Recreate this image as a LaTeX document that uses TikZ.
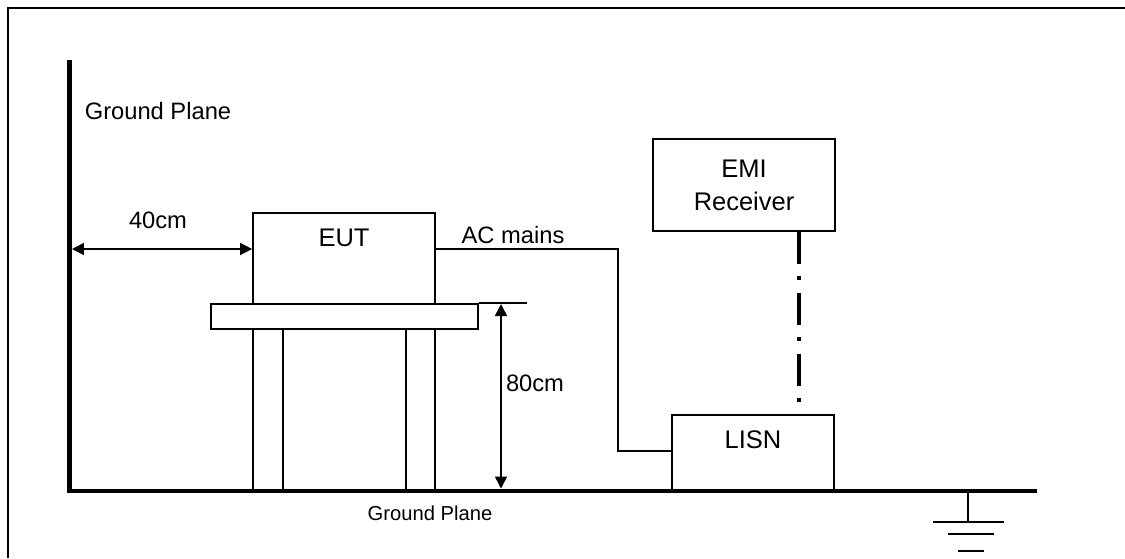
\documentclass[tikz,border=0pt]{standalone}
\usepackage{fontspec}
\setmainfont{Liberation Sans}
\usetikzlibrary{positioning,arrows.meta}
\tikzset{
  dimarrow/.style={{Triangle[length=2.4mm,width=2.4mm]}-{Triangle[length=2.4mm,width=2.4mm]}, line width=0.9pt},
  wire/.style={line width=0.9pt},
  planeline/.style={line width=2.8pt},
  frameline/.style={line width=1.1pt},
  sigline/.style={line width=2.5pt, dash pattern=on 0.64cm off 0.25cm on 0.08cm off 0.25cm},
  boxnode/.style={draw, line width=1pt, inner sep=0pt, align=center, font=\fontsize{14.5}{18.8}\selectfont},
  boxtext/.style={font=\fontsize{14.5}{18.8}\selectfont}
}
\begin{document}
\begin{tikzpicture}[x=0.02cm, y=-0.02cm, every node/.style={font=\fontsize{13.5}{16}\selectfont}]
  \useasboundingbox (0,0) rectangle (1125,558);
  \draw[frameline] (8,558) -- (8,8) -- (1125,8);
  % ground planes
  \draw[planeline] (69.5,60) |- (1037,491);
  \node (gptop) at (158,111) {Ground Plane};
  \node[font=\fontsize{11.5}{14}\selectfont] (gpbot) at (430,513) {Ground Plane};
  % equipment
  \node[boxnode, minimum width=3.64cm, minimum height=1.82cm, label={[boxtext, yshift=0.41cm]center:EUT}] (eut) at (344,258.5) {};
  \node[boxnode, minimum width=5.34cm, minimum height=0.5cm] (table) at (344.5,316.5) {};
  \draw[wire] (253,329) rectangle (283,491);
  \draw[wire] (406,329) rectangle (435,491);
  \node[boxnode, minimum width=3.24cm, minimum height=1.52cm, label={[boxtext, yshift=0.26cm]center:LISN}] (lisn) at (753,453) {};
  \node[boxnode, minimum width=3.64cm, minimum height=1.84cm] (emi) at (744,185) {EMI\\Receiver};
  % dimensions
  \coordinate (d40) at (72,249);
  \draw[dimarrow] (d40) -- (eut.west |- d40);
  \node (l40) at (158,220) {40cm};
  \draw[wire] (table.north east) -- ++(48,0);
  \coordinate (h80) at (501,304);
  \coordinate (h0) at (501,488.5);
  \draw[dimarrow] (h80) -- (h0);
  \node (l80) at (535,383) {80cm};
  % cables
  \coordinate (acbend) at (618,249);
  \coordinate (acdrop) at (618,451);
  \draw[wire] (eut.east |- acbend) -- (acbend) -- (acdrop) -- (lisn.west |- acdrop);
  \node (acl) at (513,235) {AC mains};
  \coordinate (sigend) at (799,403);
  \draw[sigline] (emi.south -| sigend) -- (sigend);
  % earth
  \coordinate (gnd) at (968,491);
  \draw[wire] (gnd) -- ++(0,31);
  \draw[wire] (933,522) -- (1004,522);
  \draw[wire] (948,534) -- (994,534);
  \draw[wire] (958,551) -- (984,551);
\end{tikzpicture}
\end{document}
